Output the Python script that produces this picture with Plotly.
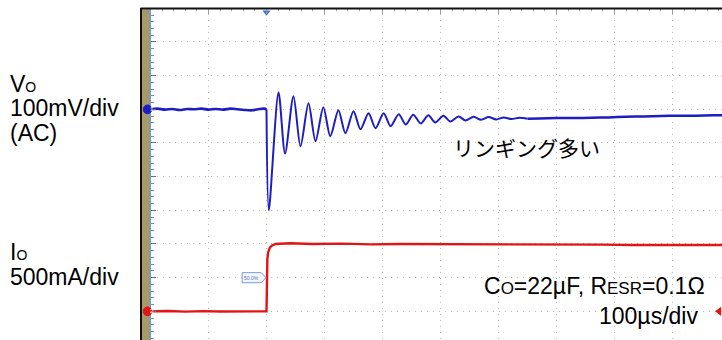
import plotly.graph_objects as go

W, H = 722, 340

# ---- scope settings -------------------------------------------------------
TIME_PER_DIV = 100      # µs/div
CH1_SCALE = 100         # mV/div  (Vo, AC coupled)
CH2_SCALE = 500         # mA/div  (Io)
CH1_POS = 1.0           # channel offsets on the screen, in divisions
CH2_POS = -5.0

# ---- Ch1: output voltage deviation (mV) vs time (µs) -----------------------
v_t = [-200, -188, -175, -162, -150, -137, -125, -112, -100, -88, -75, -62,
       -50, -38, -25, -12, -4, 0,
       4, 20.7, 32, 46.5, 58.6, 72.4, 84.5, 98, 110, 124, 136, 150, 162,
       176, 188, 202, 214, 228, 240, 253, 266, 279, 291, 305, 317, 331, 343,
       357, 370, 383, 396, 409, 422, 436, 450,
       470, 500, 530, 560, 590, 620, 650, 680, 710, 740, 770, 786]
v_mv = [0, 2, -1, 1, -2, 1, 0, 2, -1, 1, -1, 2,
        0, -2, -3, 1, 2, 0,
        -300, 50, -131, 39, -110, 18, -95, 6, -80, -3, -71, -6, -59,
        -12, -56, -12, -50, -15, -45, -16, -42, -18, -39, -19, -36, -21, -33,
        -22, -31, -23, -30, -24, -29, -25, -28,
        -27, -26, -26, -25, -24, -22, -21, -20, -19, -19, -18, -18]

# ---- Ch2: load current (A) vs time (µs) ------------------------------------
i_t = [-200, -170, -140, -110, -80, -50, -20, 0, 1.5, 3, 6, 10, 16, 40, 80,
       130, 180, 230, 280, 330, 380, 430, 480, 530, 580, 630, 680, 730, 786]
i_a = [0, 0.005, -0.004, 0.003, -0.003, 0.004, 0, 0, 0.78, 0.88, 0.95, 0.98,
       1.0, 1.01, 1.0, 1.005, 0.995, 1.0, 1.0, 0.995, 1.0, 0.99, 0.995, 0.99,
       0.99, 0.985, 0.99, 0.985, 0.985]

# ---- screen geometry (pixels) ---------------------------------------------
X_LEFT_PX = 150.5       # left edge of graticule
T0_PX = 266.5           # trigger position
PX_PER_XDIV = 58.0
Y_TOP_PX = 8.3
PX_PER_YDIV = 33.67
Y_TOP_DIV = 4.0

x_range = [-(T0_PX - X_LEFT_PX) / PX_PER_XDIV * TIME_PER_DIV,
           (W - T0_PX) / PX_PER_XDIV * TIME_PER_DIV]
y_range = [Y_TOP_DIV - (H - Y_TOP_PX) / PX_PER_YDIV, Y_TOP_DIV]

BLUE = "#1d1dc4"
RED = "#e31414"
GRID = "#b8b8b8"


def px(p):
    return p / W


def py(p):
    return 1 - p / H


ch1_div = [CH1_POS + v / CH1_SCALE for v in v_mv]
ch2_div = [CH2_POS + a * 1000 / CH2_SCALE for a in i_a]

fig = go.Figure()

# Ch1 drawn in three pieces: settled baseline, fast ringing, settled tail
i_step = v_t.index(0)
i_tail = v_t.index(450)
pieces = [(0, i_step + 1, 2.6), (i_step, i_tail + 1, 2.0),
          (i_tail, len(v_t), 2.5)]
for a, b, w in pieces:
    fig.add_trace(go.Scatter(x=v_t[a:b], y=ch1_div[a:b], mode="lines",
                             line=dict(color=BLUE, width=w, shape="spline",
                                       smoothing=0.8),
                             hoverinfo="skip", showlegend=False))
fig.add_trace(go.Scatter(x=i_t, y=ch2_div, mode="lines",
                         line=dict(color=RED, width=2.4),
                         hoverinfo="skip", showlegend=False))

# trigger position marker (top) and ch2 level marker (right edge)
fig.add_trace(go.Scatter(x=[0], y=[Y_TOP_DIV - 0.12], mode="markers",
                         marker=dict(symbol="triangle-down", size=7,
                                     color="#3b6fd6"),
                         cliponaxis=False, hoverinfo="skip", showlegend=False))
fig.add_trace(go.Scatter(x=[x_range[1] - 5], y=[CH2_POS], mode="markers",
                         marker=dict(symbol="triangle-left", size=8, color=RED),
                         cliponaxis=False, hoverinfo="skip", showlegend=False))

shapes = []
# bezel strip and frame
shapes.append(dict(type="rect", xref="paper", yref="paper",
                   x0=px(141.5), x1=px(149.5), y0=0, y1=py(9.3),
                   fillcolor="#a89968", line=dict(width=0), layer="above"))
shapes.append(dict(type="line", xref="paper", yref="paper",
                   x0=px(140.5), x1=1, y0=py(8.5), y1=py(8.5),
                   line=dict(color="#111111", width=2), layer="above"))
shapes.append(dict(type="line", xref="paper", yref="paper",
                   x0=px(141), x1=px(141), y0=0, y1=py(8),
                   line=dict(color="#111111", width=2), layer="above"))

# trigger-level tag "50.0%" at half of the current step
trig_lvl = CH2_POS + 0.5 * 1000 / CH2_SCALE
tx0, tx1, txp = -42, -9, -1
shapes.append(dict(type="path", xref="x", yref="y",
                   path=(f"M {tx0},{trig_lvl - 0.15} L {tx1},{trig_lvl - 0.15} "
                         f"L {txp},{trig_lvl} L {tx1},{trig_lvl + 0.15} "
                         f"L {tx0},{trig_lvl + 0.15} Z"),
                   fillcolor="#f2f6ff", line=dict(color="#7f9ad6", width=1)))

# channel ground markers
for pos, col in [(CH1_POS, BLUE), (CH2_POS, RED)]:
    shapes.append(dict(type="circle", xref="paper", yref="y",
                       x0=px(143.2), x1=px(151.8),
                       y0=pos - 0.13, y1=pos + 0.13,
                       fillcolor=col, line=dict(color=col, width=1),
                       layer="above"))

annotations = []
annotations.append(dict(x=(tx0 + tx1) / 2, y=trig_lvl, xref="x", yref="y",
                        text="50.0%", showarrow=False,
                        font=dict(size=5, color="#5a74b8",
                                  family="Liberation Sans")))
for pos, lbl in [(CH1_POS, "1"), (CH2_POS, "2")]:
    annotations.append(dict(x=px(147.5), y=pos, xref="paper", yref="y",
                            text=lbl, showarrow=False,
                            font=dict(size=6, color="#ffffff",
                                      family="Liberation Sans")))

LAT = "Liberation Sans, Arial, sans-serif"
SUB = "<span style='font-size:14px'>{}</span>"
SUB_R = "<span style='font-size:17px'>{}</span>"
left_labels = [
    ("V" + SUB.format("O"), 84),
    ("100mV/div", 108.5),
    ("(AC)", 133),
    ("I" + SUB.format("O"), 252),
    ("500mA/div", 276.5),
]
for txt, yc in left_labels:
    annotations.append(dict(x=px(8), y=py(yc), xref="paper", yref="paper",
                            text=txt, showarrow=False, xanchor="left",
                            yanchor="middle",
                            font=dict(size=23, color="#000000", family=LAT)))

annotations.append(dict(x=px(451), y=py(147), xref="paper", yref="paper",
                        text="リンギング多い", showarrow=False,
                        xanchor="left", yanchor="middle",
                        font=dict(size=21, color="#000000",
                                  family="Noto Sans CJK JP")))
annotations.append(dict(x=px(482), y=py(286), xref="paper", yref="paper",
                        text="C" + SUB_R.format("O") + "=22µF, R" +
                             SUB_R.format("ESR") + "=0.1Ω",
                        showarrow=False, xanchor="left", yanchor="middle",
                        font=dict(size=23, color="#000000", family=LAT)))
annotations.append(dict(x=px(597), y=py(316), xref="paper", yref="paper",
                        text="100µs/div", showarrow=False,
                        xanchor="left", yanchor="middle",
                        font=dict(size=23, color="#000000", family=LAT)))

fig.update_layout(
    width=W, height=H,
    margin=dict(l=0, r=0, t=0, b=0),
    paper_bgcolor="white", plot_bgcolor="white",
    shapes=shapes, annotations=annotations,
    xaxis=dict(domain=[px(X_LEFT_PX), 1], range=x_range,
               side="top", tick0=0, dtick=TIME_PER_DIV,
               showgrid=True, gridcolor=GRID, griddash="1px,5px",
               gridwidth=1.3, zeroline=False, showline=False,
               ticks="inside", ticklen=6, tickcolor="#9a9a9a",
               showticklabels=False,
               minor=dict(ticks="inside", dtick=TIME_PER_DIV / 5,
                          ticklen=3, tickcolor="#9a9a9a", showgrid=False)),
    yaxis=dict(domain=[0, py(Y_TOP_PX)], range=y_range,
               tick0=0, dtick=1,
               showgrid=True, gridcolor=GRID, griddash="1px,5px",
               gridwidth=1.3, zeroline=False,
               showline=True, linecolor="#6b9be6", linewidth=2,
               ticks="inside", ticklen=5, tickcolor="#707070",
               showticklabels=False,
               minor=dict(ticks="inside", dtick=0.2, ticklen=3,
                          tickcolor="#8a8a8a", showgrid=False)),
)

fig.write_html("out.html")
